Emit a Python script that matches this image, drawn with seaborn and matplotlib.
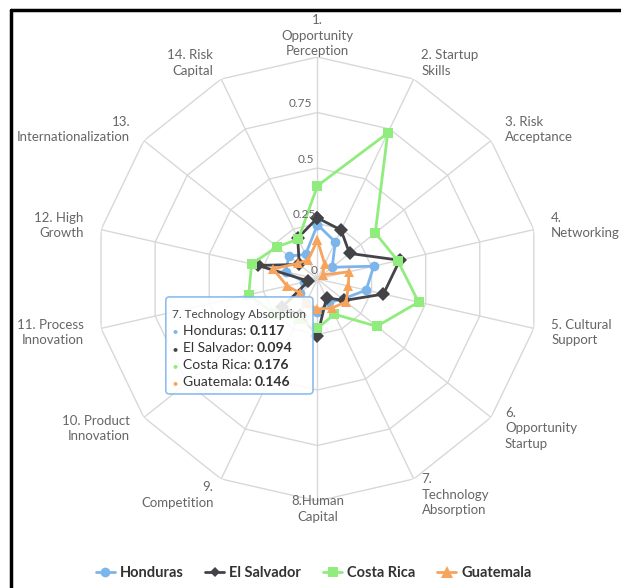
import numpy as np
import pandas as pd
import matplotlib
matplotlib.use("Agg")
import matplotlib.pyplot as plt
from matplotlib.lines import Line2D
from matplotlib.patches import FancyBboxPatch
import seaborn as sns

sns.set_style("white")
plt.rcParams['font.family'] = ['Lato', 'DejaVu Sans']

# axis categories (clockwise from top)
categories = ["1.\nOpportunity\nPerception", "2. Startup\nSkills", "3. Risk\nAcceptance",
              "4.\nNetworking", "5. Cultural\nSupport", "6.\nOpportunity\nStartup",
              "7.\nTechnology\nAbsorption", "8.Human\nCapital", "9.\nCompetition",
              "10. Product\nInnovation", "11. Process\nInnovation", "12. High\nGrowth",
              "13.\nInternationalization", "14. Risk\nCapital"]

honduras    = [0.245, 0.185, 0.085, 0.260, 0.225, 0.145, 0.117, 0.150, 0.120, 0.100, 0.060, 0.147, 0.165, 0.123]
el_salvador = [0.275, 0.245, 0.185, 0.380, 0.305, 0.155, 0.094, 0.255, 0.180, 0.205, 0.042, 0.275, 0.105, 0.205]
costa_rica  = [0.420, 0.730, 0.333, 0.371, 0.467, 0.342, 0.176, 0.222, 0.200, 0.250, 0.318, 0.304, 0.233, 0.199]
guatemala   = [0.175, 0.075, 0.030, 0.145, 0.143, 0.165, 0.146, 0.135, 0.120, 0.100, 0.141, 0.205, 0.113, 0.096]

series_names = ["Honduras", "El Salvador", "Costa Rica", "Guatemala"]
series_vals = [honduras, el_salvador, costa_rica, guatemala]
colors = ["#7cb5ec", "#434348", "#90ed7d", "#f7a35c"]
markers = ["o", "D", "s", "^"]
ticks = [0, 0.25, 0.5, 0.75]

# tooltip point
tip_idx = 6

n = len(categories)
angles = np.arange(n) * 2 * np.pi / n

rows = []
for name, vals in zip(series_names, series_vals):
    for i in range(n + 1):
        rows.append({"country": name, "theta": angles[i % n] if i < n else 2 * np.pi,
                     "value": vals[i % n], "order": i})
df = pd.DataFrame(rows)

fig = plt.figure(figsize=(6.21, 5.88), dpi=100)
ax = fig.add_axes([0.1537, 0.148, 0.715, 0.755], projection="polar")
ax.set_theta_offset(np.pi / 2)
ax.set_theta_direction(-1)
ax.set_ylim(0, 1)
ax.grid(False)
ax.spines["polar"].set_visible(False)
ax.set_xticks([])
ax.set_yticks([])

# polygon grid
grid_c = "#d8d8d8"
for lev in [0.25, 0.5, 0.75, 1.0]:
    ax.plot(np.append(angles, 2 * np.pi), [lev] * (n + 1), color=grid_c, lw=1, zorder=1)
for a in angles:
    ax.plot([a, a], [0, 1], color=grid_c, lw=1, zorder=1)

sns.lineplot(data=df, x="theta", y="value", hue="country", style="country",
             hue_order=series_names, style_order=series_names,
             palette=colors, markers=markers, dashes=False, sort=False,
             estimator=None, units="country", lw=2, markersize=7,
             markeredgewidth=0, ax=ax, zorder=3)
for line, name in zip(ax.get_lines()[-4:], series_names):
    if name == "El Salvador":
        line.set_markersize(5)
    if name == "Guatemala":
        line.set_markersize(8)
handles, labels = ax.get_legend_handles_labels()
ax.get_legend().remove()
ax.set_xlabel("")
ax.set_ylabel("")

# category labels
lab_c = "#666666"
for a, lab in zip(angles, categories):
    deg = np.degrees(a)
    s = np.sin(a)
    if abs(s) < 0.05:
        ha = "center"
    elif s > 0:
        ha = "left"
    else:
        ha = "right"
    r = 1.08
    if deg < 1:
        va, r = "bottom", 1.0
    elif abs(deg - 180) < 1:
        va, r = "top", 0.975
    else:
        va = "center"
    ax.text(a, r, lab, ha=ha, va=va, fontsize=9.5, color=lab_c,
            multialignment=ha if ha != "center" else "center", linespacing=1.35)

# radial tick labels
for t in ticks:
    ax.text(0, t, ("%g" % t), transform=ax.transData, fontsize=8.5, color=lab_c,
            ha="right", va="bottom")
for txt in ax.texts[-4:]:
    txt.set_position((-0.03 if txt.get_text() != "0" else 0.0, txt.get_position()[1] + 0.015))

# tooltip
bx, by, bw, bh = 0.267, 0.33, 0.237, 0.165
box = FancyBboxPatch((bx, by), bw, bh, boxstyle="round,pad=0,rounding_size=0.006",
                     transform=fig.transFigure, facecolor="white", alpha=0.88,
                     edgecolor="#7cb5ec", lw=1.2, zorder=10)
fig.add_artist(box)
fig.text(bx + 0.01, by + bh - 0.03, categories[tip_idx].replace("\n", " "),
         fontsize=8.5, color="#444444", zorder=11, va="center")
for j, (name, vals, c) in enumerate(zip(series_names, series_vals, colors)):
    yy = by + bh - 0.058 - j * 0.029
    fig.text(bx + 0.01, yy, "\u25cf", color=c, fontsize=6, va="center", zorder=11)
    t1 = fig.text(bx + 0.027, yy, name + ": ", fontsize=10, color="#333333", va="center", zorder=11)
    fig.add_artist(plt.Annotation("%.3f" % vals[tip_idx], xy=(1, 0), xycoords=t1,
                                  va="bottom", ha="left", fontsize=10, fontweight="bold",
                                  color="#333333", zorder=11))

# legend
leg = fig.legend(handles, labels, loc="center", bbox_to_anchor=(0.505, 0.026), ncol=4,
                 frameon=False, prop={"weight": "bold", "size": 10.5}, handlelength=1.3,
                 columnspacing=1.5, handletextpad=0.35, labelcolor="#333333")

# frame lines
fig.add_artist(Line2D([11 / 621, 1], [1 - 10 / 588, 1 - 10 / 588], color="black", lw=2.5,
                      transform=fig.transFigure))
fig.add_artist(Line2D([11 / 621, 11 / 621], [0, 1 - 10 / 588], color="black", lw=2.5,
                      transform=fig.transFigure))

fig.savefig("out.png", dpi=100)
